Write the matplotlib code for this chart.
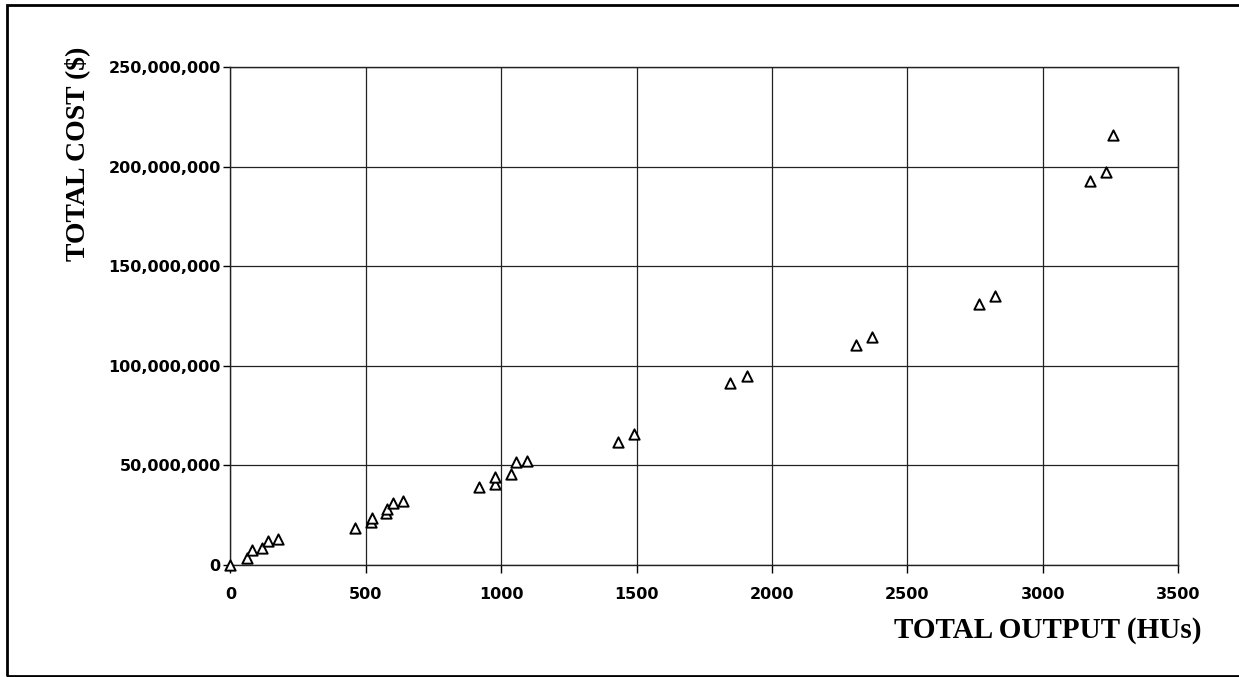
"""
Total cost vs total output scatter (triangle markers, boxed figure).
"""
import numpy as np, matplotlib
matplotlib.use('Agg')
import matplotlib.pyplot as plt
from matplotlib.patches import Rectangle
from matplotlib.ticker import FuncFormatter
from matplotlib.font_manager import FontProperties

# output in HUs, cost in millions of $
output_hus = [0, 60, 78, 115, 140, 177, 460, 518, 521, 574, 579, 601, 638,
              918, 977, 977, 1035, 1054, 1094, 1430, 1491,
              1845, 1906, 2309, 2368, 2765, 2823, 3174, 3233, 3260]
cost_musd = [0, 3.4, 7.3, 8.2, 11.8, 12.9, 18.5, 21.6, 23.3, 26.1, 27.8, 31.1, 32.2,
             39.2, 40.6, 44.0, 45.3, 51.5, 52.3, 61.4, 65.8,
             91.0, 95.0, 110.1, 114.5, 130.8, 134.8, 192.9, 197.5, 215.6]
x_ticks = [0, 500, 1000, 1500, 2000, 2500, 3000, 3500]
y_ticks = [0, 50e6, 100e6, 150e6, 200e6, 250e6]

x = np.array(output_hus)
y = np.array(cost_musd) * 1e6

fig = plt.figure(figsize=(12.39, 6.77), dpi=100)
ax = fig.add_axes([0.186, 0.166, 0.765, 0.735])

ax.scatter(x, y, marker='^', s=55, facecolors='white', edgecolors='black',
           linewidths=1.4, zorder=3, clip_on=False)

ax.set_xlim(0, 3500)
ax.set_ylim(0, 250e6)
ax.set_xticks(x_ticks)
ax.set_yticks(y_ticks)
ax.yaxis.set_major_formatter(FuncFormatter(lambda v, p: f'{int(v):,}'))
ax.grid(True, color='#222222', lw=0.9)
ax.set_axisbelow(True)
for s in ax.spines.values():
    s.set_color('#222222'); s.set_linewidth(1.0)

tick_fp = FontProperties(family='DejaVu Sans', weight='bold', size=11.5)
ax.tick_params(axis='x', length=6, width=1, pad=10)
ax.tick_params(axis='y', length=5, width=1, pad=2)
for lbl in ax.get_xticklabels() + ax.get_yticklabels():
    lbl.set_fontproperties(tick_fp)

fig.text(1202 / 1239, 1 - 631 / 677, 'TOTAL OUTPUT (HUs)', ha='right', va='center',
         family='Liberation Serif', weight='bold', size=21)
fig.text(77 / 1239, 1 - 154 / 677, 'TOTAL COST ($)', ha='center', va='center',
         rotation=90, family='Liberation Serif', weight='bold', size=20)

# frame around the whole chart
fig.patches.append(Rectangle((7 / 1239, 1 / 677), 1.05, 671 / 677,
                             transform=fig.transFigure, fill=False,
                             edgecolor='black', lw=2.0, clip_on=False))

plt.savefig('out.png', dpi=100)
